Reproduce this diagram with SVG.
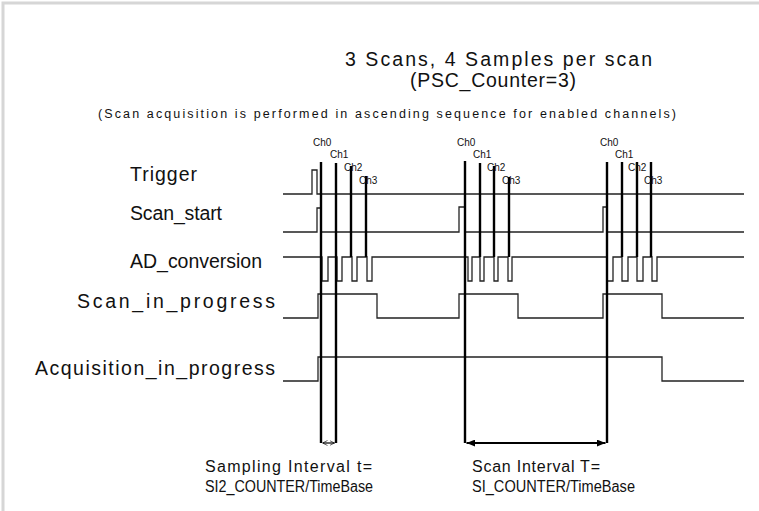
<svg xmlns="http://www.w3.org/2000/svg" width="759" height="511" viewBox="0 0 759 511">
<defs>
<style>
.t{font-family:"Liberation Sans",Arial,sans-serif;fill:#111;}
.lbl{font-size:19.5px;}
.ch{font-size:10px;}
.bot{font-size:16px;}
.sig{fill:none;stroke:#222;stroke-width:1.3;}
.mk{fill:none;stroke:#000;stroke-width:2.4;}
</style>
<marker id="af" viewBox="0 0 10 8" refX="10" refY="4" markerWidth="9" markerHeight="7" orient="auto-start-reverse" markerUnits="userSpaceOnUse">
<path d="M0,0 L10,4 L0,8 z" fill="#000"/>
</marker>
<marker id="ao" viewBox="0 0 10 10" refX="10" refY="5" markerWidth="5" markerHeight="7" orient="auto-start-reverse" markerUnits="userSpaceOnUse">
<path d="M0,0 L10,5 L0,10" fill="none" stroke="#000" stroke-width="1.2"/>
</marker>
</defs>
<rect width="759" height="511" fill="#fff"/>
<path d="M3,511 V3 H759" fill="none" stroke="#d6d6d6" stroke-width="3"/>

<g id="titles">
<text class="t" x="345" y="66" font-size="19.5" textLength="307" lengthAdjust="spacing">3 Scans, 4 Samples per scan</text>
<text class="t" x="410" y="87" font-size="19.5" textLength="166" lengthAdjust="spacing">(PSC_Counter=3)</text>
<text class="t" x="98" y="118" font-size="12.5" textLength="578" lengthAdjust="spacing">(Scan acquisition is performed in ascending sequence for enabled channels)</text>
</g>

<g id="signal-labels">
<text class="t lbl" x="130" y="181" textLength="67" lengthAdjust="spacing">Trigger</text>
<text class="t lbl" x="130" y="220" textLength="92" lengthAdjust="spacing">Scan_start</text>
<text class="t lbl" x="130" y="268" textLength="132" lengthAdjust="spacing">AD_conversion</text>
<text class="t lbl" x="77" y="308" textLength="198" lengthAdjust="spacing">Scan_in_progress</text>
<text class="t lbl" x="35" y="375" textLength="240" lengthAdjust="spacing">Acquisition_in_progress</text>
</g>

<g id="signals">
<path id="trigger" class="sig" d="M283,194 H312 V170 H317 V194 H744"/>
<path id="scan_start" class="sig" d="M283,232 H317 V208 H321 V232 H459 V207 H465 V232 H603 V207 H607 V232 H744"/>
<path id="ad_conversion" class="sig" d="M283,257 H322 V281 H328 V257 H337 V281 H342 V257 H352 V281 H357 V257 H367 V281 H372 V257 H468 V281 H472 V257 H480 V281 H484 V257 H494 V281 H498 V257 H508 V281 H512 V257 H607 V281 H613 V257 H622 V281 H628 V257 H637 V281 H643 V257 H652 V281 H657 V257 H744"/>
<path id="scan_in_progress" class="sig" d="M283,318 H318 V294 H377 V318 H459 V294 H518 V318 H603 V294 H662 V318 H744"/>
<path id="acquisition_in_progress" class="sig" d="M283,381 H318 V357 H662 V381 H744"/>
</g>

<g id="channel-markers">
<line class="mk" x1="321" y1="162" x2="321" y2="443"/>
<line class="mk" x1="336" y1="163" x2="336" y2="443"/>
<line class="mk" x1="351" y1="166" x2="351" y2="257"/>
<line class="mk" x1="366" y1="176" x2="366" y2="257"/>
<line class="mk" x1="465" y1="161" x2="465" y2="443"/>
<line class="mk" x1="480" y1="163" x2="480" y2="257"/>
<line class="mk" x1="494" y1="166" x2="494" y2="257"/>
<line class="mk" x1="509" y1="177" x2="509" y2="257"/>
<line class="mk" x1="607" y1="162" x2="607" y2="443"/>
<line class="mk" x1="622" y1="162" x2="622" y2="257"/>
<line class="mk" x1="637" y1="162" x2="637" y2="257"/>
<line class="mk" x1="651" y1="162" x2="651" y2="257"/>
</g>

<g id="channel-labels">
<text class="t ch" x="313" y="146">Ch0</text>
<text class="t ch" x="330" y="158">Ch1</text>
<text class="t ch" x="344" y="171">Ch2</text>
<text class="t ch" x="359" y="184">Ch3</text>
<text class="t ch" x="457" y="146">Ch0</text>
<text class="t ch" x="473" y="158">Ch1</text>
<text class="t ch" x="487" y="171">Ch2</text>
<text class="t ch" x="502" y="184">Ch3</text>
<text class="t ch" x="600" y="146">Ch0</text>
<text class="t ch" x="615" y="158">Ch1</text>
<text class="t ch" x="628" y="171">Ch2</text>
<text class="t ch" x="644" y="184">Ch3</text>
</g>

<g id="connectors">
<line x1="322.5" y1="443" x2="334.5" y2="443" stroke="#000" stroke-width="1.2" marker-start="url(#ao)" marker-end="url(#ao)"/>
<line x1="466.5" y1="443" x2="605.5" y2="443" stroke="#000" stroke-width="2" marker-start="url(#af)" marker-end="url(#af)"/>
</g>

<g id="interval-labels">
<text class="t bot" x="205" y="472" textLength="167" lengthAdjust="spacing">Sampling Interval t=</text>
<text class="t bot" x="205" y="492" textLength="168" lengthAdjust="spacingAndGlyphs">SI2_COUNTER/TimeBase</text>
<text class="t bot" x="472" y="472" textLength="128" lengthAdjust="spacing">Scan Interval T=</text>
<text class="t bot" x="472" y="492" textLength="163" lengthAdjust="spacingAndGlyphs">SI_COUNTER/TimeBase</text>
</g>
</svg>
